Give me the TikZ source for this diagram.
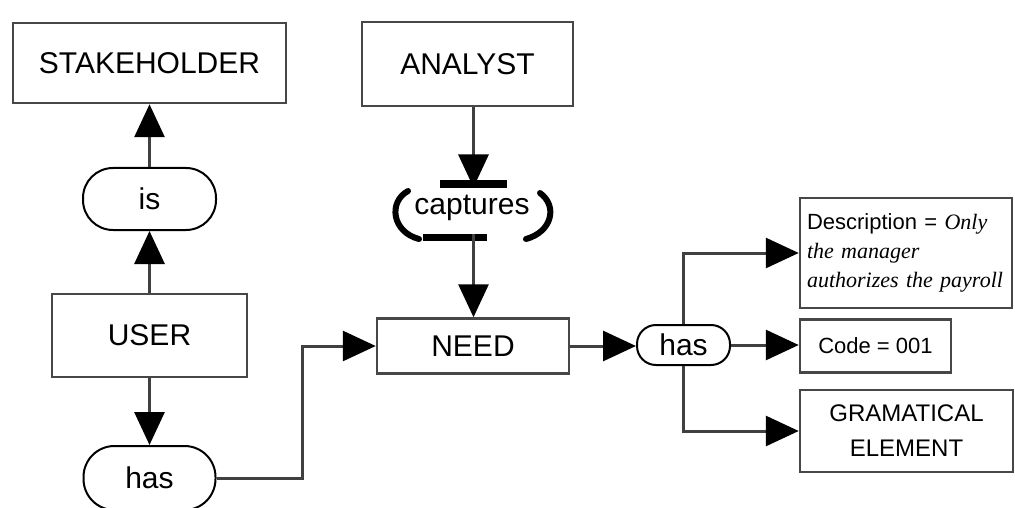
\documentclass[tikz,border=0pt]{standalone}
\usepackage{fontspec}
\setmainfont{Liberation Sans}
\newfontfamily\serifit{Liberation Serif}
\usetikzlibrary{arrows.meta,positioning}
\tikzset{
  box/.style={draw=black!72, line width=2.5pt, fill=white, inner sep=0pt,
    font=\fontsize{30}{36}\selectfont},
  pill/.style={draw=black, line width=2pt, rounded corners=30pt, fill=white, inner sep=0pt,
    font=\fontsize{30}{36}\selectfont},
  conn/.style={draw=black!75, line width=3pt,
    -{Triangle[length=33pt,width=30pt,black]}},
  bar/.style={draw=black, line width=7pt},
  paren/.style={draw=black, line width=6pt, line cap=round},
}
\begin{document}
\begin{tikzpicture}[x=1pt,y=-1pt]
\useasboundingbox (0,0) rectangle (1015,508);
\fill[white] (0,0) rectangle (1015,508);

% nodes
\node[box, minimum width=273pt, minimum height=80pt] (stake) at (149.5,63) {STAKEHOLDER};
\node[box, minimum width=211pt, minimum height=84pt] (analyst) at (467.5,64) {ANALYST};
\node[pill, minimum width=133pt, minimum height=62pt] (isn) at (149.5,199) {is};
\node[box, minimum width=195pt, minimum height=83pt] (user) at (149.5,335.5) {USER};
\node[pill, minimum width=132pt, minimum height=64pt, rounded corners=31pt] (has1) at (149.5,478) {has};
\node[box, minimum width=192pt, minimum height=55pt] (need) at (473,346) {NEED};
\node[pill, minimum width=93pt, minimum height=40pt, rounded corners=19pt] (has2) at (683.5,345) {has};
\node[box, minimum width=212pt, minimum height=110pt, align=left, text width=198pt,
  font=\fontsize{22}{29}\selectfont] (desc) at (906,253)
  {Description = {\serifit\itshape Only}\\{\serifit\itshape the manager}\\{\serifit\itshape authorizes the payroll}};
\node[box, minimum width=151pt, minimum height=53pt, font=\fontsize{22}{26}\selectfont] (code) at (875.5,346) {Code = 001};
\node[box, minimum width=213pt, minimum height=82pt, align=center,
  font=\fontsize{24}{35}\selectfont] (gram) at (906.5,431) {GRAMATICAL\\ELEMENT};

% captures symbol
\node[font=\fontsize{30}{36}\selectfont, inner sep=0pt] (capt) at (472,208) {captures};
\coordinate (captop) at (473.5,184);
\coordinate (capbot) at (473.5,237);
\draw[bar] (440,184) -- (507,184);
\draw[bar] (423,237) -- (487,237);
\draw[paren] (408,191) .. controls (388,202) and (392,232) .. (419,239);
\draw[paren] (540,193) .. controls (558,206) and (552,232) .. (526,239);

% connectors
\draw[conn] (user.north) -- (isn.south);
\draw[conn] (isn.north) -- (stake.south);
\draw[conn] (user.south) -- (has1.north);
\coordinate (bend) at (302,410);
\draw[conn] (has1.east) -| (bend) |- (need.west);
\draw[conn] (analyst.south -| captop) -- ([yshift=-3.5pt]captop);
\draw[conn] ([yshift=3.5pt]capbot) -- (need.north -| capbot);
\draw[conn] (need.east) -- (need.east -| has2.west);
\draw[conn] (has2.east) -- (has2.east -| code.west);
\draw[conn] (has2.north) |- (desc.west);
\draw[conn] (has2.south) |- (gram.west);
\end{tikzpicture}
\end{document}
